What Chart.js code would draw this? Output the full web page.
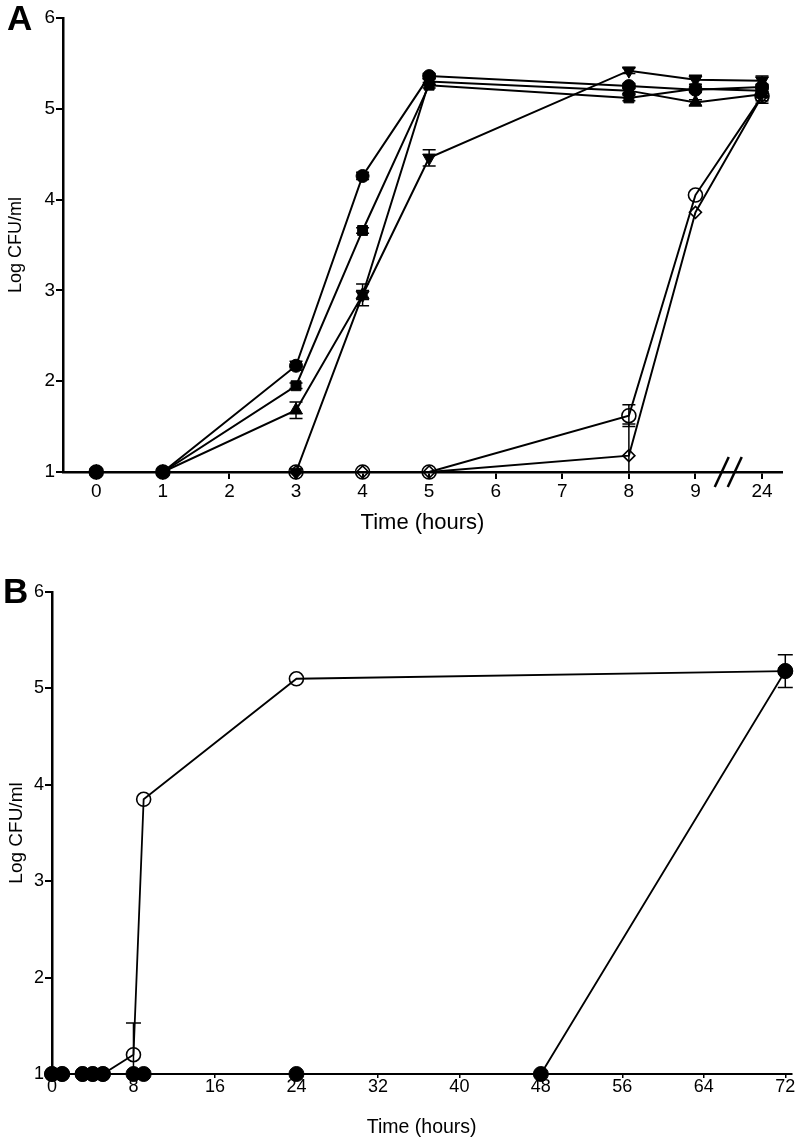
<!DOCTYPE html>
<html>
<head>
<meta charset="utf-8">
<script src="https://cdn.jsdelivr.net/npm/chart.js@4.4.0/dist/chart.umd.min.js"></script>
<style>
    body { margin: 0; background: #fff; width: 800px; height: 1140px; position: relative; overflow: hidden; font-family: "Liberation Sans", Arial, sans-serif; }
    .wrap { position: absolute; left: 0; width: 800px; }
    #wrapA { top: 0; height: 540px; }
    #wrapB { top: 560px; height: 580px; }
    .panel { position: absolute; font-weight: bold; font-size: 35px; line-height: 1; color: #000; }
</style>
</head>
<body>
<div class="wrap" id="wrapA"><canvas id="chartA" width="800" height="540"></canvas></div>
<div class="wrap" id="wrapB"><canvas id="chartB" width="800" height="580"></canvas></div>
<div class="panel" style="left:7px;top:0px">A</div>
<div class="panel" style="left:3px;top:573px">B</div>
<script>
// panel A: x axis is evenly spaced slots, 24 h after the break
const axisLabelsA = ['0', '1', '2', '3', '4', '5', '6', '7', '8', '9', '24'];
const timeA = ['0', '1', '3', '4', '5', '8', '9', '24'];

const circleA      = [1, 1, 2.17, 4.26, 5.36, 5.25, 5.21, 5.24];
const squareA      = [1, 1, 1.95, 3.66, 5.26, 5.12, 5.22, 5.20];
const triUpA       = [1, 1, 1.68, 2.95, 5.30, 5.20, 5.07, 5.16];
const triDownA     = [1, 1, 1.00, 2.95, 4.46, 5.42, 5.32, 5.31];
const openCircleA  = [1, 1, 1.00, 1.00, 1.00, 1.62, 4.05, 5.14];
const openDiamondA = [1, 1, 1.00, 1.00, 1.00, 1.18, 3.86, 5.14];

const circleErrA      = [0, 0, 0.05, 0.04, 0.03, 0.03, 0.03, 0.03];
const squareErrA      = [0, 0, 0.03, 0.03, 0.03, 0.03, 0.03, 0.03];
const triUpErrA       = [0, 0, 0.09, 0.12, 0.03, 0.03, 0.03, 0.03];
const triDownErrA     = [0, 0, 0.00, 0.05, 0.09, 0.03, 0.05, 0.05];
const openCircleErrA  = [0, 0, 0.00, 0.00, 0.00, 0.12, 0.00, 0.05];
const openDiamondErrA = [0, 0, 0.00, 0.00, 0.00, 0.35, 0.00, 0.08];

// panel B
const timeB     = [0, 1, 3, 4, 5, 8, 9, 24, 48, 72];
const filledB   = [1, 1, 1, 1, 1, 1, 1, 1, 1, 5.18];
const filledErrB = [0, 0, 0, 0, 0, 0, 0, 0, 0, 0.17];
const openTimeB = [0, 1, 3, 4, 5, 8, 9, 24, 72];
const openB     = [1, 1, 1, 1, 1, 1.2, 3.85, 5.1, 5.18];
const openErrB  = [0, 0, 0, 0, 0, 0.33, 0, 0, 0];
const xTicksB   = [0, 8, 16, 24, 32, 40, 48, 56, 64, 72];

const yTicks = [1, 2, 3, 4, 5, 6];
const fontFamily = '"Liberation Sans", Arial, sans-serif';

function pointsA(values) {
    return values.map((v, i) => ({x: axisLabelsA.indexOf(timeA[i]), y: v}));
}
function pointsB(times, values) {
    return values.map((v, i) => ({x: times[i], y: v}));
}

function seriesA(values, errors, style, filled, extra) {
    return Object.assign({
        data: pointsA(values),
        errors: errors,
        borderColor: '#000',
        borderWidth: 2,
        pointStyle: style,
        pointRadius: 6.5,
        pointBorderColor: '#000',
        pointBorderWidth: filled ? 1 : 1.6,
        pointBackgroundColor: filled ? '#000' : 'rgba(0,0,0,0)',
        clip: false,
        tension: 0
    }, extra || {});
}

// error bars drawn through the chart scales
const errorBars = {
    id: 'errorBars',
    afterDatasetsDraw(chart, args, opts) {
        const ctx = chart.ctx;
        const y = chart.scales.y;
        ctx.save();
        ctx.strokeStyle = '#000';
        ctx.lineWidth = 1.5;
        chart.data.datasets.forEach((ds, di) => {
            if (!ds.errors) return;
            const meta = chart.getDatasetMeta(di);
            ds.data.forEach((p, i) => {
                const e = ds.errors[i];
                if (!e) return;
                const px = meta.data[i].x;
                const top = y.getPixelForValue(p.y + e);
                const bot = y.getPixelForValue(Math.max(p.y - e, y.min));
                const half = opts.cap / 2;
                ctx.beginPath();
                ctx.moveTo(px, top); ctx.lineTo(px, bot);
                ctx.moveTo(px - half, top); ctx.lineTo(px + half, top);
                if (p.y - e > y.min) { ctx.moveTo(px - half, bot); ctx.lineTo(px + half, bot); }
                ctx.stroke();
            });
        });
        ctx.restore();
    }
};

// "//" break between 9 and 24 on panel A
const axisBreak = {
    id: 'axisBreak',
    afterDraw(chart) {
        const ctx = chart.ctx;
        const xs = chart.scales.x;
        const cx = xs.getPixelForValue(axisLabelsA.indexOf('9') + 0.5);
        const cy = chart.chartArea.bottom;
        ctx.save();
        ctx.strokeStyle = '#000';
        ctx.lineWidth = 2.5;
        [-7, 6].forEach(dx => {
            ctx.beginPath();
            ctx.moveTo(cx + dx - 7, cy + 15);
            ctx.lineTo(cx + dx + 7, cy - 15);
            ctx.stroke();
        });
        ctx.restore();
    }
};

function yScale(width, tickFont, titleFont) {
    return {
        min: 1, max: 6,
        afterBuildTicks: s => { s.ticks = yTicks.map(v => ({value: v})); },
        afterFit: s => { s.width = width; },
        ticks: {color: '#000', font: {family: fontFamily, size: tickFont}, padding: 1},
        grid: {drawOnChartArea: false, color: '#000', lineWidth: 2, tickLength: 7},
        border: {color: '#000', width: 2.5},
        title: {display: true, text: 'Log CFU/ml', color: '#000',
                font: {family: fontFamily, size: titleFont}, padding: {top: 5, bottom: 0}}
    };
}

function InitChartA() {
    const ctx = document.getElementById('chartA').getContext('2d');
    new Chart(ctx, {
        type: 'line',
        data: {
            datasets: [
                seriesA(circleA, circleErrA, 'circle', true),
                seriesA(squareA, squareErrA, 'rect', true, {pointRadius: 7}),
                seriesA(triUpA, triUpErrA, 'triangle', true, {pointRadius: 7.5}),
                seriesA(triDownA, triDownErrA, 'triangle', true, {pointRadius: 7.5, pointRotation: 180}),
                seriesA(openCircleA, openCircleErrA, 'circle', false, {pointRadius: 7}),
                seriesA(openDiamondA, openDiamondErrA, 'rectRot', false, {pointRadius: 6})
            ]
        },
        options: {
            responsive: false,
            animation: false,
            devicePixelRatio: 1,
            layout: {padding: {top: 18, right: 18, left: 0, bottom: 0}},
            plugins: {legend: {display: false}, tooltip: {enabled: false}, errorBars: {cap: 13}},
            scales: {
                x: {
                    type: 'linear',
                    min: -0.5, max: 10.3,
                    afterBuildTicks: s => { s.ticks = axisLabelsA.map((l, i) => ({value: i})); },
                    afterFit: s => { s.height = 68; },
                    ticks: {color: '#000', font: {family: fontFamily, size: 19}, padding: 1,
                            autoSkip: false, maxRotation: 0,
                            callback: v => axisLabelsA[v]},
                    grid: {drawOnChartArea: false, color: '#000', lineWidth: 2, tickLength: 7},
                    border: {color: '#000', width: 2.5},
                    title: {display: true, text: 'Time (hours)', color: '#000',
                            font: {family: fontFamily, size: 22}, padding: {top: 0, bottom: 4}}
                },
                y: yScale(63, 19, 18)
            }
        },
        plugins: [errorBars, axisBreak]
    });
}

function InitChartB() {
    const ctx = document.getElementById('chartB').getContext('2d');
    new Chart(ctx, {
        type: 'line',
        data: {
            datasets: [
                {
                    data: pointsB(timeB, filledB), errors: filledErrB,
                    borderColor: '#000', borderWidth: 1.8,
                    pointStyle: 'circle', pointRadius: 7.5, pointBorderWidth: 1,
                    pointBorderColor: '#000', pointBackgroundColor: '#000', clip: false
                },
                {
                    data: pointsB(openTimeB, openB), errors: openErrB,
                    borderColor: '#000', borderWidth: 1.8,
                    pointStyle: 'circle', pointRadius: 7, pointBorderWidth: 1.6,
                    pointBorderColor: '#000', pointBackgroundColor: 'rgba(0,0,0,0)', clip: false
                }
            ]
        },
        options: {
            responsive: false,
            animation: false,
            devicePixelRatio: 1,
            layout: {padding: {top: 32, right: 4, left: 0, bottom: 0}},
            plugins: {legend: {display: false}, tooltip: {enabled: false}, errorBars: {cap: 15}},
            scales: {
                x: {
                    type: 'linear',
                    min: 0, max: 72.6,
                    afterBuildTicks: s => { s.ticks = xTicksB.map(v => ({value: v})); },
                    afterFit: s => { s.height = 66; },
                    ticks: {color: '#000', font: {family: fontFamily, size: 18}, padding: -2,
                            autoSkip: false, maxRotation: 0},
                    grid: {drawOnChartArea: false, color: '#000', lineWidth: 1.5, tickLength: 4},
                    border: {color: '#000', width: 2},
                    title: {display: true, text: 'Time (hours)', color: '#000',
                            font: {family: fontFamily, size: 19.5}, padding: {top: 0, bottom: 1}}
                },
                y: yScale(52, 18, 19)
            }
        },
        plugins: [errorBars]
    });
}

InitChartA();
InitChartB();
</script>
</body>
</html>
